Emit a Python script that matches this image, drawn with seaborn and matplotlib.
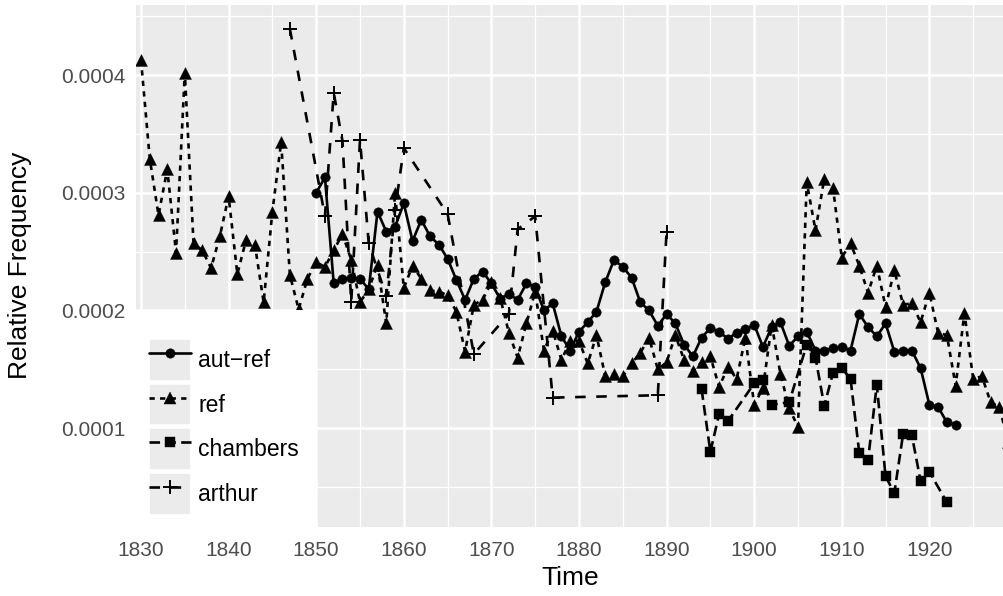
import matplotlib
matplotlib.use("Agg")
import numpy as np
import pandas as pd
import matplotlib.pyplot as plt
import seaborn as sns
from matplotlib.patches import Rectangle
from matplotlib.lines import Line2D
from matplotlib.legend_handler import HandlerLine2D
from matplotlib.ticker import FixedLocator, FuncFormatter

# ---- data -------------------------------------------------------------
ref_years = list(range(1830, 1930))
ref_vals = [
    0.000413, 0.000329, 0.000281, 0.000320, 0.000249, 0.000402, 0.000257, 0.000251, 0.000236, 0.000263,
    0.000297, 0.000231, 0.000260, 0.000256, 0.000207, 0.000284, 0.000343, 0.000230, 0.000201, 0.000227,
    0.000241, 0.000237, 0.000251, 0.000265, 0.000243, 0.000207, 0.000218, 0.000239, 0.000189, 0.000300,
    0.000219, 0.000238, 0.000227, 0.000217, 0.000216, 0.000213, 0.000199, 0.000165, 0.000205, 0.000209,
    0.000224, 0.000211, 0.000181, 0.000160, 0.000189, 0.000216, 0.000166, 0.000183, 0.000158, 0.000174,
    0.000174, 0.000155, 0.000179, 0.000144, 0.000146, 0.000144, 0.000155, 0.000164, 0.000177, 0.000150,
    0.000156, 0.000179, 0.000158, 0.000149, 0.000156, 0.000161, 0.000135, 0.000152, 0.000142, 0.000177,
    0.000120, 0.000134, 0.000188, 0.000146, 0.000117, 0.000101, 0.000309, 0.000268, 0.000312, 0.000304,
    0.000245, 0.000257, 0.000238, 0.000215, 0.000238, 0.000203, 0.000234, 0.000205, 0.000206, 0.000190,
    0.000215, 0.000181, 0.000179, 0.000136, 0.000198, 0.000142, 0.000144, 0.000122, 0.000118, 0.000088,
]

autref_years = list(range(1850, 1924))
autref_vals = [
    0.000300, 0.000313, 0.000223, 0.000227, 0.000228, 0.000227, 0.000218, 0.000284, 0.000267, 0.000271,
    0.000291, 0.000259, 0.000277, 0.000263, 0.000256, 0.000244, 0.000226, 0.000209, 0.000227, 0.000233,
    0.000223, 0.000210, 0.000214, 0.000209, 0.000223, 0.000220, 0.000200, 0.000206, 0.000178, 0.000166,
    0.000182, 0.000190, 0.000199, 0.000224, 0.000243, 0.000237, 0.000228, 0.000207, 0.000200, 0.000187,
    0.000197, 0.000189, 0.000171, 0.000161, 0.000177, 0.000185, 0.000182, 0.000176, 0.000181, 0.000184,
    0.000188, 0.000169, 0.000186, 0.000190, 0.000170, 0.000178, 0.000182, 0.000166, 0.000166, 0.000168,
    0.000169, 0.000166, 0.000197, 0.000186, 0.000178, 0.000189, 0.000165, 0.000166, 0.000166, 0.000151,
    0.000120, 0.000118, 0.000105, 0.000103,
]

chambers_years = [1894, 1895, 1896, 1897, 1900, 1901, 1902, 1904, 1906, 1907, 1908, 1909,
                  1910, 1911, 1912, 1913, 1914, 1915, 1916, 1917, 1918, 1919, 1920, 1922]
chambers_vals = [0.000133, 0.000080, 0.000112, 0.000106, 0.000138, 0.000141, 0.000120, 0.000122,
                 0.000171, 0.000160, 0.000119, 0.000147, 0.000151, 0.000142, 0.000079, 0.000073,
                 0.000137, 0.000059, 0.000045, 0.000095, 0.000094, 0.000055, 0.000063, 0.000037]

arthur_years = [1847, 1851, 1852, 1853, 1854, 1855, 1856, 1858, 1859, 1860, 1865, 1868,
                1872, 1873, 1875, 1877, 1889, 1890]
arthur_vals = [0.000439, 0.000280, 0.000385, 0.000344, 0.000207, 0.000345, 0.000257, 0.000212,
               0.000285, 0.000338, 0.000282, 0.000163, 0.000197, 0.000269, 0.000280, 0.000126,
               0.000128, 0.000267]

series_names = ["aut-ref", "ref", "chambers", "arthur"]
legend_labels = ["aut\u2212ref", "ref", "chambers", "arthur"]

frames = []
for name, yrs, vals in [("aut-ref", autref_years, autref_vals), ("ref", ref_years, ref_vals),
                        ("chambers", chambers_years, chambers_vals), ("arthur", arthur_years, arthur_vals)]:
    frames.append(pd.DataFrame({"Time": yrs, "freq": vals, "series": name}))
df = pd.concat(frames, ignore_index=True)

# ---- styling ----------------------------------------------------------
sns.set_theme(style="darkgrid", rc={
    "axes.facecolor": "#EBEBEB",
    "grid.color": "white",
    "axes.edgecolor": "#EBEBEB",
    "axes.axisbelow": True,
})
plt.rcParams["font.family"] = ["Liberation Sans", "DejaVu Sans"]

styles = {
    "aut-ref": dict(marker="o", ms=6.8, ls="-"),
    "ref": dict(marker="^", ms=8.6, ls=(0, (2, 2))),
    "chambers": dict(marker="s", ms=7.2, ls=(0, (4, 2))),
    "arthur": dict(marker="+", ms=9.5, ls=(0, (4, 4))),
}
LW = 1.9

W, H = 1004, 596
fig = plt.figure(figsize=(W / 100, H / 100), dpi=100)
ax = fig.add_axes([136 / W, (H - 527) / H, (W - 136) / W, (527 - 4.5) / H])

# lines first, then points on top of all lines
for name in series_names:
    sub = df[df.series == name]
    sns.lineplot(data=sub, x="Time", y="freq", ax=ax, color="black", lw=LW,
                 linestyle=styles[name]["ls"], estimator=None, sort=True, legend=False)
for name in series_names:
    sub = df[df.series == name]
    st = styles[name]
    if st["marker"] == "+":
        sns.scatterplot(data=sub, x="Time", y="freq", ax=ax, marker="+", color="black",
                        s=st["ms"] ** 2, linewidth=1.4, legend=False, zorder=3)
    else:
        sns.scatterplot(data=sub, x="Time", y="freq", ax=ax, marker=st["marker"], color="black",
                        edgecolor="black", s=st["ms"] ** 2, linewidth=0.3, legend=False, zorder=3)

# ---- axes -------------------------------------------------------------
ax.set_xlim(1829.43, 1928.52)
ax.set_ylim(0.0000161, 0.0004599)
ax.xaxis.set_major_locator(FixedLocator(list(range(1830, 1930, 10))))
ax.xaxis.set_minor_locator(FixedLocator(list(range(1835, 1930, 10))))
ax.yaxis.set_major_locator(FixedLocator([0.0001, 0.0002, 0.0003, 0.0004]))
ax.yaxis.set_minor_locator(FixedLocator([0.00005, 0.00015, 0.00025, 0.00035, 0.00045]))
ax.yaxis.set_major_formatter(FuncFormatter(lambda v, p: f"{v:.4f}"))
ax.xaxis.set_major_formatter(FuncFormatter(lambda v, p: f"{int(round(v))}"))
ax.grid(which="major", color="white", lw=1.8)
ax.grid(which="minor", color="white", lw=0.9)
for s in ax.spines.values():
    s.set_visible(False)
ax.tick_params(which="major", length=4.3, width=1.1, color="#333333",
               labelcolor="#4D4D4D", labelsize=15, pad=3)
ax.tick_params(axis="x", which="major", pad=5.5)
ax.tick_params(which="minor", length=0)

ax.set_xlabel("Time", fontsize=19, color="black")
ax.set_ylabel("Relative Frequency", fontsize=19, color="black")
ax.xaxis.label.set_va("center")
ax.xaxis.set_label_coords(0.5, (527 - 578) / 522.5)
ax.yaxis.label.set_va("center")
ax.yaxis.label.set_ha("center")
ax.yaxis.set_label_coords((20 - 136) / 868, 0.5)

# ---- legend -----------------------------------------------------------
bg = Rectangle((130 / W, (H - 529) / H), (317 - 130) / W, (529 - 310) / H,
               transform=fig.transFigure, facecolor="white", edgecolor="none",
               zorder=4, clip_on=False)
ax.add_artist(bg)


class KeyHandler(HandlerLine2D):
    def create_artists(self, legend, orig_handle, xdescent, ydescent, width, height, fontsize, trans):
        key = Rectangle((-xdescent, -ydescent), width, height, facecolor="#EBEBEB",
                        edgecolor="white", linewidth=1.2, transform=trans)
        arts = super().create_artists(legend, orig_handle, xdescent, ydescent, width, height,
                                      fontsize, trans)
        return [key] + list(arts)


handles = []
for name in series_names:
    st = styles[name]
    handles.append(Line2D([], [], color="black", lw=LW, linestyle=st["ls"], marker=st["marker"],
                          markersize=st["ms"], markeredgewidth=1.4 if st["marker"] == "+" else 0.3))

LEG_FS = 16.5
leg = ax.legend(handles, legend_labels, loc="upper left",
                bbox_to_anchor=(149 / W, 1 - 339 / H), bbox_transform=fig.transFigure,
                frameon=False, fontsize=LEG_FS, handlelength=1.84, handleheight=2.42,
                labelspacing=0.13, handletextpad=0.3, borderpad=0, borderaxespad=0,
                handler_map={Line2D: KeyHandler(numpoints=1)})
leg.set_zorder(5)
for t in leg.get_texts():
    t.set_color("black")

fig.savefig("out.png", dpi=100)
